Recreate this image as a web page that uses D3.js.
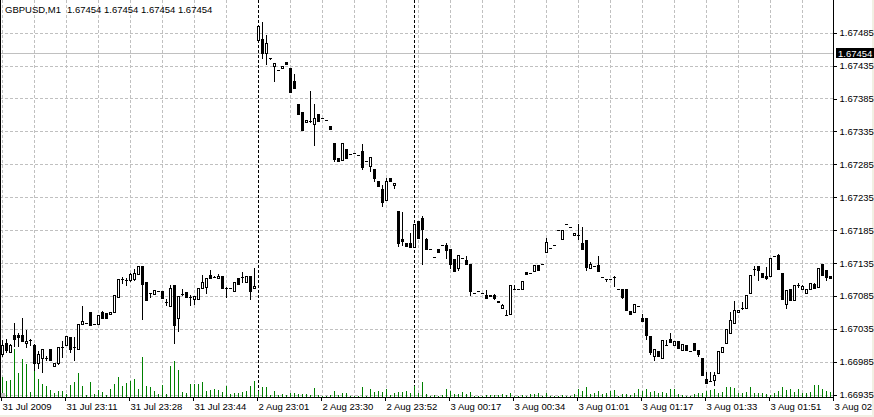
<!DOCTYPE html>
<html><head><meta charset="utf-8">
<script src="https://cdn.jsdelivr.net/npm/d3@7/dist/d3.min.js"></script>
<style>
html,body{margin:0;padding:0;background:#fff;}
svg{display:block;font-family:"Liberation Sans",Arial,sans-serif;}
</style></head><body>
<svg id="c" width="874" height="417"></svg>
<script>
const symbolTitle = "GBPUSD,M1";
const lastQuote = "1.67454 1.67454 1.67454 1.67454";
const bidPrice = 1.67454;

const open = [
1.66997,1.67014,1.67000,1.67026,1.67026,1.67026,1.67013,1.67018,1.67011,1.66983,
1.66990,1.66990,1.67004,1.66979,1.66983,1.67007,1.67010,1.67022,1.67008,1.67004,
1.67042,1.67044,1.67060,1.67042,1.67042,1.67060,1.67059,1.67058,1.67061,1.67084,
1.67111,1.67109,1.67109,1.67110,1.67118,1.67131,1.67106,1.67089,1.67088,1.67093,
1.67093,1.67076,1.67070,1.67101,1.67051,1.67088,1.67091,1.67084,1.67080,1.67081,
1.67097,1.67099,1.67117,1.67113,1.67112,1.67115,1.67097,1.67097,1.67093,1.67112,
1.67114,1.67106,1.67116,1.67097,1.67474,1.67476,1.67454,1.67446,1.67435,1.67428,
1.67431,1.67440,1.67432,1.67411,1.67377,1.67364,1.67350,1.67351,1.67347,1.67362,
1.67355,1.67352,1.67343,1.67317,1.67295,1.67292,1.67308,1.67300,1.67302,1.67299,
1.67305,1.67290,1.67283,1.67278,1.67259,1.67247,1.67230,1.67264,1.67253,1.67214,
1.67172,1.67165,1.67165,1.67160,1.67199,1.67204,1.67171,1.67156,1.67144,1.67156,
1.67162,1.67162,1.67156,1.67141,1.67128,1.67143,1.67139,1.67133,1.67089,1.67093,
1.67089,1.67087,1.67087,1.67086,1.67077,1.67066,1.67056,1.67057,1.67095,1.67095,
1.67095,1.67122,1.67120,1.67123,1.67132,1.67133,1.67152,1.67158,1.67162,1.67185,
1.67172,1.67195,1.67190,1.67178,1.67177,1.67166,1.67170,1.67127,1.67130,1.67132,
1.67113,1.67110,1.67110,1.67113,1.67096,1.67096,1.67096,1.67062,1.67061,1.67069,
1.67052,1.67052,1.67024,1.66993,1.67001,1.66991,1.67011,1.67020,1.67011,1.67017,
1.67003,1.67010,1.67002,1.67014,1.67003,1.66991,1.66959,1.66955,1.66957,1.66968,
1.67000,1.67013,1.67029,1.67044,1.67061,1.67067,1.67066,1.67090,1.67126,1.67130,
1.67120,1.67116,1.67115,1.67146,1.67147,1.67120,1.67073,1.67095,1.67079,1.67101,
1.67096,1.67089,1.67095,1.67103,1.67099,1.67134,1.67125,1.67115];

const high = [
1.67018,1.67019,1.67012,1.67044,1.67028,1.67051,1.67033,1.67020,1.67012,1.67002,
1.67005,1.66993,1.67004,1.66983,1.67007,1.67017,1.67024,1.67022,1.67023,1.67042,
1.67070,1.67044,1.67060,1.67042,1.67056,1.67062,1.67059,1.67061,1.67087,1.67111,
1.67113,1.67112,1.67120,1.67126,1.67131,1.67131,1.67106,1.67090,1.67094,1.67093,
1.67093,1.67080,1.67102,1.67101,1.67085,1.67095,1.67091,1.67087,1.67085,1.67097,
1.67117,1.67112,1.67124,1.67115,1.67118,1.67115,1.67099,1.67097,1.67106,1.67112,
1.67121,1.67115,1.67116,1.67127,1.67497,1.67502,1.67481,1.67447,1.67439,1.67428,
1.67434,1.67440,1.67432,1.67422,1.67377,1.67364,1.67353,1.67396,1.67377,1.67362,
1.67355,1.67352,1.67343,1.67317,1.67295,1.67317,1.67308,1.67300,1.67302,1.67299,
1.67316,1.67290,1.67296,1.67278,1.67259,1.67254,1.67264,1.67264,1.67257,1.67214,
1.67213,1.67165,1.67181,1.67195,1.67199,1.67206,1.67173,1.67156,1.67144,1.67156,
1.67162,1.67166,1.67156,1.67141,1.67147,1.67143,1.67145,1.67133,1.67089,1.67093,
1.67089,1.67094,1.67087,1.67088,1.67077,1.67073,1.67064,1.67102,1.67101,1.67095,
1.67108,1.67122,1.67120,1.67132,1.67132,1.67133,1.67173,1.67158,1.67162,1.67185,
1.67185,1.67195,1.67190,1.67181,1.67195,1.67189,1.67170,1.67137,1.67130,1.67146,
1.67113,1.67110,1.67110,1.67115,1.67096,1.67096,1.67096,1.67062,1.67072,1.67069,
1.67058,1.67052,1.67024,1.67005,1.67001,1.67018,1.67018,1.67028,1.67017,1.67017,
1.67012,1.67010,1.67002,1.67014,1.67003,1.66991,1.66969,1.66969,1.66970,1.67001,
1.67008,1.67034,1.67061,1.67078,1.67064,1.67076,1.67087,1.67117,1.67131,1.67130,
1.67120,1.67129,1.67142,1.67146,1.67149,1.67120,1.67094,1.67095,1.67102,1.67105,
1.67102,1.67095,1.67105,1.67105,1.67128,1.67134,1.67125,1.67115];

const low = [
1.66994,1.67000,1.66999,1.67009,1.67009,1.67016,1.67008,1.67010,1.66973,1.66975,
1.66970,1.66988,1.66987,1.66979,1.66982,1.66992,1.67010,1.67000,1.66988,1.67004,
1.67042,1.67044,1.67041,1.67042,1.67042,1.67051,1.67051,1.67058,1.67061,1.67084,
1.67104,1.67101,1.67107,1.67109,1.67118,1.67050,1.67079,1.67083,1.67088,1.67093,
1.67082,1.67071,1.67070,1.67014,1.67031,1.67087,1.67084,1.67071,1.67073,1.67081,
1.67097,1.67090,1.67112,1.67113,1.67112,1.67097,1.67084,1.67097,1.67093,1.67103,
1.67106,1.67106,1.67081,1.67097,1.67473,1.67446,1.67437,1.67445,1.67412,1.67428,
1.67431,1.67437,1.67395,1.67401,1.67361,1.67337,1.67350,1.67350,1.67314,1.67351,
1.67355,1.67352,1.67339,1.67290,1.67290,1.67292,1.67295,1.67300,1.67302,1.67299,
1.67278,1.67290,1.67275,1.67260,1.67252,1.67222,1.67230,1.67260,1.67249,1.67161,
1.67163,1.67161,1.67159,1.67160,1.67173,1.67134,1.67157,1.67156,1.67144,1.67151,
1.67162,1.67142,1.67127,1.67123,1.67125,1.67143,1.67133,1.67086,1.67089,1.67093,
1.67089,1.67082,1.67085,1.67080,1.67075,1.67066,1.67056,1.67057,1.67095,1.67095,
1.67095,1.67118,1.67120,1.67123,1.67125,1.67133,1.67152,1.67158,1.67162,1.67185,
1.67172,1.67195,1.67190,1.67178,1.67172,1.67156,1.67125,1.67127,1.67130,1.67123,
1.67113,1.67108,1.67110,1.67100,1.67096,1.67082,1.67064,1.67058,1.67061,1.67069,
1.67047,1.67020,1.66996,1.66988,1.66994,1.66991,1.67011,1.67015,1.67011,1.67006,
1.67003,1.67003,1.67002,1.67003,1.66994,1.66965,1.66953,1.66955,1.66950,1.66968,
1.67000,1.67013,1.67029,1.67044,1.67061,1.67065,1.67066,1.67090,1.67117,1.67109,
1.67114,1.67110,1.67115,1.67146,1.67126,1.67081,1.67067,1.67079,1.67079,1.67099,
1.67096,1.67089,1.67095,1.67097,1.67099,1.67117,1.67109,1.67112];

const close = [
1.67011,1.67003,1.67011,1.67020,1.67023,1.67017,1.67017,1.67018,1.66983,1.66996,
1.67004,1.66990,1.66988,1.66983,1.67007,1.67007,1.67024,1.67004,1.67008,1.67042,
1.67047,1.67044,1.67041,1.67042,1.67056,1.67051,1.67051,1.67061,1.67087,1.67111,
1.67111,1.67109,1.67118,1.67120,1.67131,1.67103,1.67079,1.67089,1.67094,1.67093,
1.67082,1.67076,1.67097,1.67041,1.67085,1.67088,1.67084,1.67084,1.67085,1.67097,
1.67106,1.67112,1.67112,1.67113,1.67116,1.67097,1.67097,1.67097,1.67106,1.67103,
1.67114,1.67115,1.67093,1.67100,1.67495,1.67454,1.67469,1.67446,1.67439,1.67428,
1.67434,1.67437,1.67395,1.67401,1.67361,1.67337,1.67353,1.67351,1.67356,1.67351,
1.67355,1.67352,1.67339,1.67293,1.67290,1.67317,1.67295,1.67300,1.67302,1.67299,
1.67281,1.67290,1.67296,1.67264,1.67252,1.67227,1.67259,1.67260,1.67257,1.67166,
1.67169,1.67161,1.67159,1.67195,1.67173,1.67187,1.67157,1.67156,1.67144,1.67151,
1.67162,1.67154,1.67134,1.67123,1.67147,1.67143,1.67133,1.67092,1.67089,1.67093,
1.67089,1.67082,1.67085,1.67082,1.67075,1.67071,1.67056,1.67102,1.67095,1.67095,
1.67108,1.67118,1.67120,1.67132,1.67125,1.67133,1.67167,1.67158,1.67162,1.67185,
1.67185,1.67195,1.67190,1.67181,1.67177,1.67156,1.67129,1.67134,1.67130,1.67123,
1.67113,1.67110,1.67110,1.67113,1.67096,1.67084,1.67064,1.67058,1.67072,1.67069,
1.67047,1.67026,1.67000,1.67005,1.66994,1.67018,1.67011,1.67015,1.67017,1.67006,
1.67012,1.67003,1.67002,1.67003,1.66996,1.66965,1.66953,1.66955,1.66965,1.67001,
1.67008,1.67034,1.67048,1.67064,1.67064,1.67067,1.67087,1.67117,1.67126,1.67124,
1.67114,1.67112,1.67142,1.67146,1.67126,1.67081,1.67094,1.67079,1.67102,1.67101,
1.67100,1.67095,1.67105,1.67097,1.67128,1.67117,1.67114,1.67112];

const volume = [
61,48,50,143,71,113,98,15,83,53,
38,33,20,11,18,18,8,35,45,71,
33,5,46,8,20,15,6,23,38,60,
33,43,48,53,25,119,33,31,18,8,
36,8,93,108,80,15,11,38,38,38,
46,17,20,25,21,15,33,10,11,11,
15,18,33,48,18,31,31,5,18,5,
8,7,13,11,8,8,10,6,26,7,
3,3,5,17,7,11,13,3,3,3,
31,3,23,15,18,15,23,6,11,16,
16,18,11,33,12,46,8,3,6,3,
6,25,18,8,8,15,8,16,3,3,
3,6,6,7,7,8,6,11,3,3,
6,3,8,8,11,3,11,3,3,3,
5,3,3,8,25,18,31,8,11,18,
8,11,18,20,3,8,8,6,13,23,
18,23,16,18,13,15,13,25,23,8,
6,3,3,10,11,13,18,21,25,13,
16,30,30,28,13,11,16,31,13,11,
11,8,6,11,18,31,21,25,16,23,
13,13,15,35,35,23,18,15];

const priceTicks = [1.67485,1.67435,1.67385,1.67335,1.67285,1.67235,1.67185,1.67135,1.67085,1.67035,1.66985,1.66935];
const timeTickIndex = [0,16,32,48,64,80,96,112,128,144,160,176,192,208];
const timeTickLabels = ["31 Jul 2009","31 Jul 23:11","31 Jul 23:28","31 Jul 23:44","2 Aug 23:01","2 Aug 23:30","2 Aug 23:52","3 Aug 00:17","3 Aug 00:34","3 Aug 01:01","3 Aug 01:17","3 Aug 01:33","3 Aug 01:51","3 Aug 02"];
const daySeparators = [64, 103];

const plotRight = 833, plotBottom = 397;
const svg = d3.select("#c");
const n = open.length;
const x = d3.scaleLinear().domain([0, 208]).range([2.5, 834.5]);
const y = d3.scaleLinear().domain([1.66935, 1.67485]).range([394.6, 32.7]);
const yv = d3.scaleLinear().domain([0, 300]).range([plotBottom, plotBottom - 100]);
const grid = "#c0c0c0";
const axisFont = 9.5;

// window edge strips
svg.append("rect").attr("x", 872).attr("y", 0).attr("width", 2).attr("height", 417).attr("fill", "#f1f0e4");
svg.append("rect").attr("x", 0).attr("y", 415).attr("width", 874).attr("height", 2).attr("fill", "#f1f0e4");

// horizontal grid
svg.append("g").selectAll("line").data(priceTicks).join("line")
  .attr("x1", 0).attr("x2", plotRight)
  .attr("y1", d => Math.round(y(d)) + 0.5).attr("y2", d => Math.round(y(d)) + 0.5)
  .attr("stroke", grid).attr("stroke-dasharray", "3,2").attr("shape-rendering", "crispEdges");

// vertical grid every 8 bars
const vg = d3.range(0, 208, 8).filter(i => !daySeparators.includes(i));
svg.append("g").selectAll("line").data(vg).join("line")
  .attr("x1", d => x(d)).attr("x2", d => x(d)).attr("y1", 0).attr("y2", plotBottom)
  .attr("stroke", grid).attr("stroke-dasharray", "3,2").attr("shape-rendering", "crispEdges");

// bid line
svg.append("line").attr("x1", 0).attr("x2", plotRight)
  .attr("y1", Math.round(y(bidPrice)) + 0.5).attr("y2", Math.round(y(bidPrice)) + 0.5)
  .attr("stroke", grid).attr("shape-rendering", "crispEdges");

// day separators
svg.append("g").selectAll("line").data(daySeparators).join("line")
  .attr("x1", d => x(d)).attr("x2", d => x(d)).attr("y1", 0).attr("y2", plotBottom)
  .attr("stroke", "#000").attr("stroke-dasharray", "3,2").attr("shape-rendering", "crispEdges");

// volumes
svg.append("g").selectAll("line").data(volume).join("line")
  .attr("x1", (d, i) => x(i)).attr("x2", (d, i) => x(i))
  .attr("y1", plotBottom).attr("y2", d => Math.round(yv(d)))
  .attr("stroke", "#008000").attr("shape-rendering", "crispEdges");

// candles
const idx = d3.range(n);
const cg = svg.append("g").attr("shape-rendering", "crispEdges");
cg.selectAll("line").data(idx).join("line")
  .attr("x1", i => x(i)).attr("x2", i => x(i))
  .attr("y1", i => Math.round(y(Math.max(high[i], open[i], close[i]))))
  .attr("y2", i => Math.round(y(Math.min(low[i], open[i], close[i]))) + 1)
  .attr("stroke", "#000");
idx.forEach(i => {
  const top = Math.round(y(Math.max(open[i], close[i])));
  const bot = Math.round(y(Math.min(open[i], close[i])));
  const cx = x(i);
  const bull = close[i] > open[i];
  if (bull && bot - top >= 2) {
    cg.append("rect").attr("x", cx - 1).attr("y", top + 0.5)
      .attr("width", 2).attr("height", bot - top)
      .attr("fill", "#fff").attr("stroke", "#000");
  } else {
    cg.append("rect").attr("x", cx - 1.5).attr("y", top)
      .attr("width", 3).attr("height", Math.max(1, bot - top + 1))
      .attr("fill", "#000");
  }
});

// frame
svg.append("line").attr("x1", 0.5).attr("x2", 0.5).attr("y1", 0).attr("y2", plotBottom + 1).attr("stroke", "#000");
svg.append("line").attr("x1", plotRight + 0.5).attr("x2", plotRight + 0.5).attr("y1", 0).attr("y2", plotBottom + 1).attr("stroke", "#000");
svg.append("line").attr("x1", 0).attr("x2", plotRight + 1).attr("y1", plotBottom + 0.5).attr("y2", plotBottom + 0.5).attr("stroke", "#000");
svg.append("rect").attr("x", 1).attr("y", plotBottom - 4).attr("width", 4).attr("height", 4).attr("fill", grid);

// right price axis
const ya = d3.axisRight(y).tickValues(priceTicks).tickFormat(d3.format(".5f")).tickSize(3).tickPadding(3).tickSizeOuter(0);
const yag = svg.append("g").attr("transform", `translate(${plotRight + 0.5},0)`).call(ya);
yag.select(".domain").remove();
yag.selectAll("line").attr("stroke", "#000").attr("shape-rendering", "crispEdges");
yag.selectAll("text").attr("font-size", axisFont).attr("fill", "#000").attr("font-family", "Liberation Sans, Arial, sans-serif");

// bid label
svg.append("rect").attr("x", plotRight + 3).attr("y", Math.round(y(bidPrice)) - 5).attr("width", 39).attr("height", 10).attr("fill", "#000");
svg.append("text").attr("x", plotRight + 5).attr("y", Math.round(y(bidPrice)) + 3.5)
  .attr("font-size", axisFont).attr("fill", "#fff").text(d3.format(".5f")(bidPrice));

// bottom time axis
const xa = d3.axisBottom(x).tickValues(timeTickIndex).tickFormat((d, k) => timeTickLabels[k]).tickSize(3).tickSizeOuter(0);
const xag = svg.append("g").attr("transform", `translate(-1.5,${plotBottom + 0.5})`).call(xa);
xag.select(".domain").remove();
xag.selectAll("line").attr("stroke", "#000").attr("shape-rendering", "crispEdges");
xag.selectAll("text").attr("font-size", axisFont).attr("fill", "#000").attr("text-anchor", "start")
  .attr("x", 1).attr("y", 12).attr("dy", 0).attr("font-family", "Liberation Sans, Arial, sans-serif");

// title
svg.append("text").attr("x", 5).attr("y", 13).attr("font-size", 9.5).text(symbolTitle);
svg.append("text").attr("x", 67).attr("y", 13).attr("font-size", 9.5).text(lastQuote);
</script>
</body></html>
